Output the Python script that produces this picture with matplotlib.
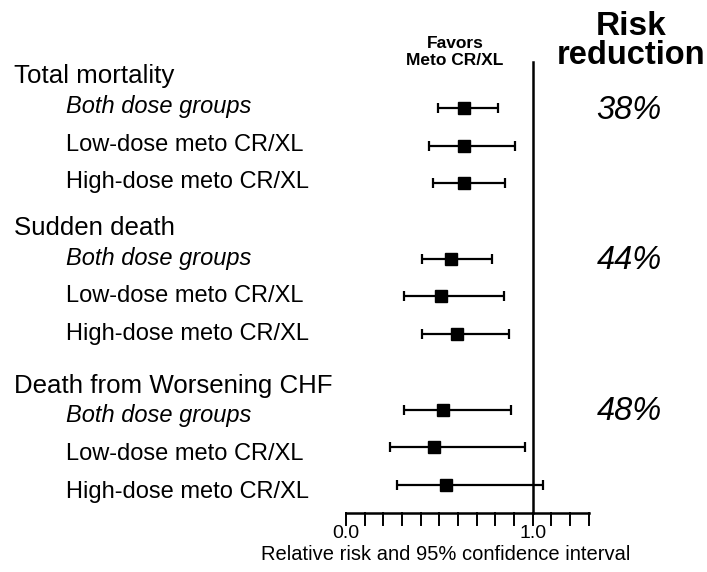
import matplotlib
matplotlib.use('Agg')
from matplotlib import pyplot as plt

plt.rcParams['font.family'] = ['Liberation Sans', 'DejaVu Sans']

# data
groups = ['Total mortality', 'Sudden death', 'Death from Worsening CHF']
subgroups = ['Both dose groups', 'Low-dose meto CR/XL', 'High-dose meto CR/XL']
risk_reduction = ['38%', '44%', '48%']

rr = [0.634, 0.632, 0.630,
      0.562, 0.511, 0.594,
      0.521, 0.473, 0.534]
ci_low = [0.494, 0.445, 0.468,
          0.405, 0.309, 0.405,
          0.309, 0.234, 0.271]
ci_high = [0.812, 0.905, 0.852,
           0.782, 0.848, 0.871,
           0.886, 0.959, 1.053]

x_ticks = [0.0, 1.0]
x_max = 1.3


def row_positions():
    rows = []
    for g in range(len(groups)):
        for s in range(len(subgroups)):
            rows.append(g * 4 + s)
    return rows


fig = plt.figure(figsize=(7.07, 5.72), dpi=100)
ax = fig.add_axes([0, 0, 1, 1])
ax.set_xlim(-1.853, 1.934)
ax.set_ylim(12.31, -2.865)
ax.axis('off')

rows = row_positions()
xerr = [[r - lo for r, lo in zip(rr, ci_low)], [hi - r for r, hi in zip(rr, ci_high)]]
ax.errorbar(rr, rows, xerr=xerr, fmt='s', color='black', markersize=9.3,
            elinewidth=1.6, capsize=3.3, capthick=1.6)

# line of no effect
axis_y = 10.74
ax.plot([1.0, 1.0], [axis_y, -1.22], color='black', lw=1.8)

# bottom axis drawn by hand
ax.plot([0, x_max], [axis_y, axis_y], color='black', lw=1.8)
for i in range(14):
    ax.plot([i / 10, i / 10], [axis_y, axis_y + 0.32], color='black', lw=1.4)
for t in x_ticks:
    ax.text(t, 11.4, f'{t:.1f}', ha='center', va='baseline', fontsize=14)
ax.text(0.536, 11.99, 'Relative risk and 95% confidence interval',
        ha='center', va='baseline', fontsize=14.5)

# labels on the left (text in the scan sits a bit lower in the last group)
label_x = -1.778
sub_x = -1.5
head_off = [-0.66, -0.63, -0.44]
sub_off = [0.13, 0.16, 0.34]
for g, name in enumerate(groups):
    ax.text(label_x, g * 4 + head_off[g], name, ha='left', va='baseline', fontsize=18.6)
    for s, sub in enumerate(subgroups):
        ax.text(sub_x, g * 4 + s + sub_off[g], sub, ha='left', va='baseline', fontsize=17,
                style='italic' if s == 0 else 'normal')
    ax.text(1.516, g * 4 + 0.28, risk_reduction[g], ha='center', va='baseline',
            fontsize=23.5, style='italic')

ax.text(0.584, -1.485, 'Favors\nMeto CR/XL', ha='center', va='center',
        fontsize=12.5, fontweight='bold', linespacing=1.15)
ax.text(1.53, -1.94, 'Risk', ha='center', va='baseline', fontsize=24, fontweight='bold')
ax.text(1.527, -1.17, 'reduction', ha='center', va='baseline', fontsize=23.5, fontweight='bold')

fig.savefig('out.png', dpi=100)
